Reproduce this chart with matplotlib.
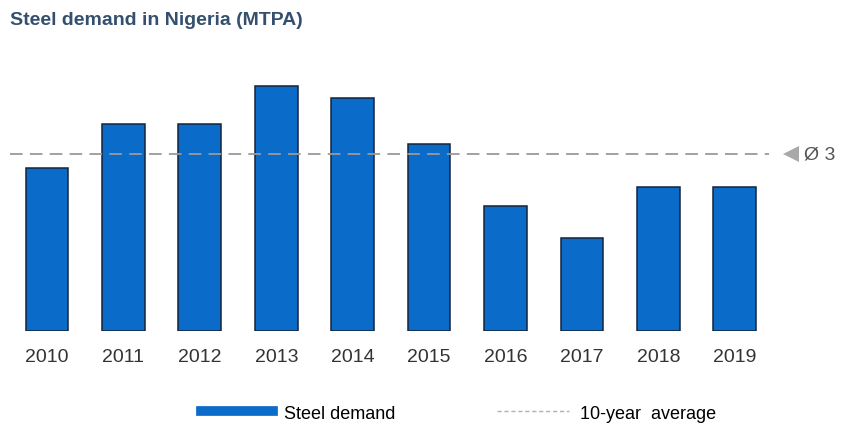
import matplotlib
matplotlib.use("Agg")
import matplotlib.pyplot as plt
from matplotlib.lines import Line2D

years = ["2010", "2011", "2012", "2013", "2014", "2015", "2016", "2017", "2018", "2019"]
demand = [2.77, 3.51, 3.51, 4.16, 3.95, 3.18, 2.12, 1.58, 2.45, 2.45]
avg_value = 3
avg_label = "Ø 3"

BLUE = "#0a6cc8"
GREY = "#9a9a9a"
plt.rcParams["font.family"] = ["Liberation Sans Narrow", "Liberation Sans", "DejaVu Sans"]

fig = plt.figure(figsize=(8.41, 4.27), dpi=100)
ax = fig.add_axes([0.0, 0.222, 1.0, 0.64])

x = range(len(years))
ax.bar(x, demand, width=0.56, color=BLUE, edgecolor="#15243a", linewidth=1.1, zorder=2)

# 10-year average line + marker
ax.plot([-0.48, 9.45], [avg_value, avg_value], color=GREY, lw=1.3,
        linestyle=(0, (7, 4)), zorder=3)
ax.plot([9.73], [avg_value], marker="<", markersize=11, color="#a8a8a8",
        markeredgewidth=0, zorder=3)
ax.text(9.9, avg_value, avg_label, va="center", ha="left", fontsize=14, color="#555555")

ax.set_xlim(-0.615, 10.39)
ax.set_ylim(0, 4.63)
ax.set_xticks(list(x))
ax.set_xticklabels(years, fontsize=14, color="#333333")
ax.tick_params(axis="x", length=0, pad=12)
ax.set_yticks([])
for s in ax.spines.values():
    s.set_visible(False)

fig.text(0.012, 0.952, "Steel demand in Nigeria (MTPA)", fontsize=14,
         fontweight="bold", color="#34506e", va="center", ha="left")

handles = [Line2D([], [], color=BLUE, lw=7),
           Line2D([], [], color="#b0b0b0", lw=1, linestyle=(0, (3, 2)))]
fig.legend(handles, ["Steel demand", "10-year  average"], loc="center",
           bbox_to_anchor=(0.545, 0.03), ncol=2, frameon=False, fontsize=13,
           handlelength=4.0, columnspacing=5.6, handletextpad=0.6)

fig.savefig("out.png", dpi=100)
